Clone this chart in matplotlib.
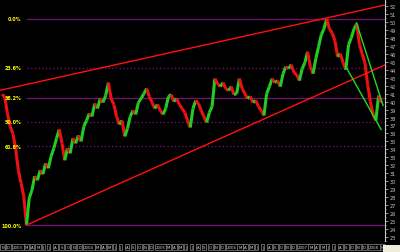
import numpy as np
import pandas as pd
import matplotlib
matplotlib.use('Agg')
import matplotlib.pyplot as plt
import matplotlib.dates as mdates
from matplotlib.collections import LineCollection
from matplotlib.patches import Rectangle

# biweekly closes, first one on 2002-11-05
START = '2002-11-05'
closes = [
    40.9, 40.63, 38.5, 36.88, 36.0, 34.13, 31.38, 29.75, 28.13, 24.5,
    27.88, 28.88, 30.63, 30.13, 31.38, 30.88, 32.25, 31.63, 33.13, 34.13,
    35.38, 36.5, 34.75, 32.63, 34.13, 33.5, 35.38, 34.75, 35.75, 35.0,
    36.88, 37.63, 38.5, 38.13, 39.75, 39.13, 40.38, 39.88, 40.75, 42.38,
    40.38, 39.63, 38.13, 37.13, 37.63, 35.63, 36.63, 38.13, 38.88, 38.38,
    39.88, 40.38, 41.0, 41.63, 40.63, 39.88, 39.13, 39.63, 38.88, 38.38,
    39.13, 40.63, 40.88, 40.0, 40.38, 39.63, 39.13, 38.63, 37.63, 36.75,
    39.13, 40.13, 39.75, 38.88, 38.13, 37.38, 38.63, 39.38, 42.88, 42.25,
    41.88, 42.38, 41.63, 41.38, 41.88, 40.88, 41.0, 42.88, 41.63, 41.0,
    40.38, 40.63, 39.88, 40.13, 39.38, 38.88, 38.25, 41.0, 41.88, 42.88,
    42.38, 42.63, 41.88, 43.5, 44.38, 44.13, 44.63, 43.63, 43.38, 42.63,
    44.13, 44.88, 46.25, 44.38, 43.5, 45.38, 46.88, 48.38, 49.13, 50.38,
    49.13, 48.63, 47.63, 45.63, 46.0, 44.88, 44.0, 47.13, 48.0, 49.13,
    49.75, 47.13, 46.0, 44.88, 42.13, 40.0, 38.38, 37.63, 40.75, 39.88,
]
dates = pd.date_range(START, periods=len(closes), freq='14D')

fib_levels = [0.0, 23.6, 38.2, 50.0, 61.8, 100.0]
fib_styles = ['-', ':', '-', ':', ':', '-']

# trend lines as (date, price) pairs
upper_red = [('2002-10-26', 41.41), ('2008-03-23', 52.12)]
lower_red = [('2003-03-11', 24.5), ('2008-03-23', 44.6)]
green_upper = [('2007-10-29', 49.88), ('2008-03-13', 39.5)]
green_lower = [('2007-09-10', 44.13), ('2008-03-03', 36.5)]

X_MIN, X_MAX = pd.Timestamp('2002-10-26'), pd.Timestamp('2008-03-23')
Y_MIN, Y_MAX = 22.625, 52.875
BG = 'black'
PURPLE = '#6e106e'
AXIS_GREY = '#c8c8c8'


def seg(pair):
    return [mdates.date2num(pd.Timestamp(d)) for d, _ in pair], [v for _, v in pair]


fig = plt.figure(figsize=(4.0, 2.53), dpi=100, facecolor=BG)
ax = fig.add_axes([0, 0.0435, 0.9625, 0.9565], facecolor=BG)

# price line, coloured by direction
xs = mdates.date2num(dates)
ys = np.array(closes)
pts = np.column_stack([xs, ys]).reshape(-1, 1, 2)
segs = np.concatenate([pts[:-1], pts[1:]], axis=1)
cols = ['#22cc22' if b >= a else '#ee1111' for a, b in zip(ys[:-1], ys[1:])]
ax.add_collection(LineCollection(segs, colors=cols, linewidths=2.2, zorder=3))

# fibonacci retracement levels
hi, lo = max(closes), min(closes)
lo_date = mdates.date2num(dates[int(np.argmin(closes))])
lab_x = mdates.date2num(pd.Timestamp('2003-02-14'))
for lvl, ls in zip(fib_levels, fib_styles):
    price = hi - lvl / 100 * (hi - lo)
    ax.plot([lo_date, mdates.date2num(X_MAX)], [price, price], color=PURPLE,
            lw=1.0, ls=ls, zorder=1)
    ax.text(lab_x, price, f'{lvl:.1f}%', color='#ffff00', fontsize=3.5,
            fontweight='bold', ha='right', va='center')

for pair, color in [(upper_red, '#ff1010'), (lower_red, '#ff1010'),
                    (green_upper, '#22dd22'), (green_lower, '#22dd22')]:
    lx, ly = seg(pair)
    ax.plot(lx, ly, color=color, lw=1.0, zorder=4)

ax.set_xlim(mdates.date2num(X_MIN), mdates.date2num(X_MAX))
ax.set_ylim(Y_MIN, Y_MAX)
for s in ['top', 'left', 'bottom']:
    ax.spines[s].set_visible(False)
ax.spines['right'].set_color(AXIS_GREY)
ax.spines['right'].set_linewidth(0.8)
ax.yaxis.tick_right()
ax.set_yticks(range(23, 53))
ax.set_yticks(np.arange(22.5, 53, 1.0), minor=True)
ax.tick_params(axis='y', colors=AXIS_GREY, labelsize=3.6, length=2, width=0.5, pad=1.5)
ax.tick_params(axis='y', which='minor', colors=AXIS_GREY, length=1, width=0.5)
ax.set_xticks([])

# month strip along the bottom
ax2 = fig.add_axes([0, 0, 0.9625, 0.0435], facecolor=BG)
ax2.set_xlim(mdates.date2num(X_MIN), mdates.date2num(X_MAX))
ax2.set_ylim(0, 1)
ax2.axis('off')
for m in pd.date_range('2002-11-01', '2008-03-01', freq='MS'):
    if m.month == 2:
        continue
    label = str(m.year) if m.month == 1 else m.strftime('%b')[0]
    ax2.text(mdates.date2num(m), 0.45, label, color='#d8d8d8', fontsize=2.8,
             ha='left', va='center',
             bbox=dict(boxstyle='square,pad=0.25', fc=BG, ec='#8a8a8a', lw=0.5))

fig.patches.append(Rectangle((0.9575, 0), 0.0425, 0.028, transform=fig.transFigure,
                             fc='#f0ecdc', ec='none'))

fig.savefig('out.png', dpi=100, facecolor=BG)
